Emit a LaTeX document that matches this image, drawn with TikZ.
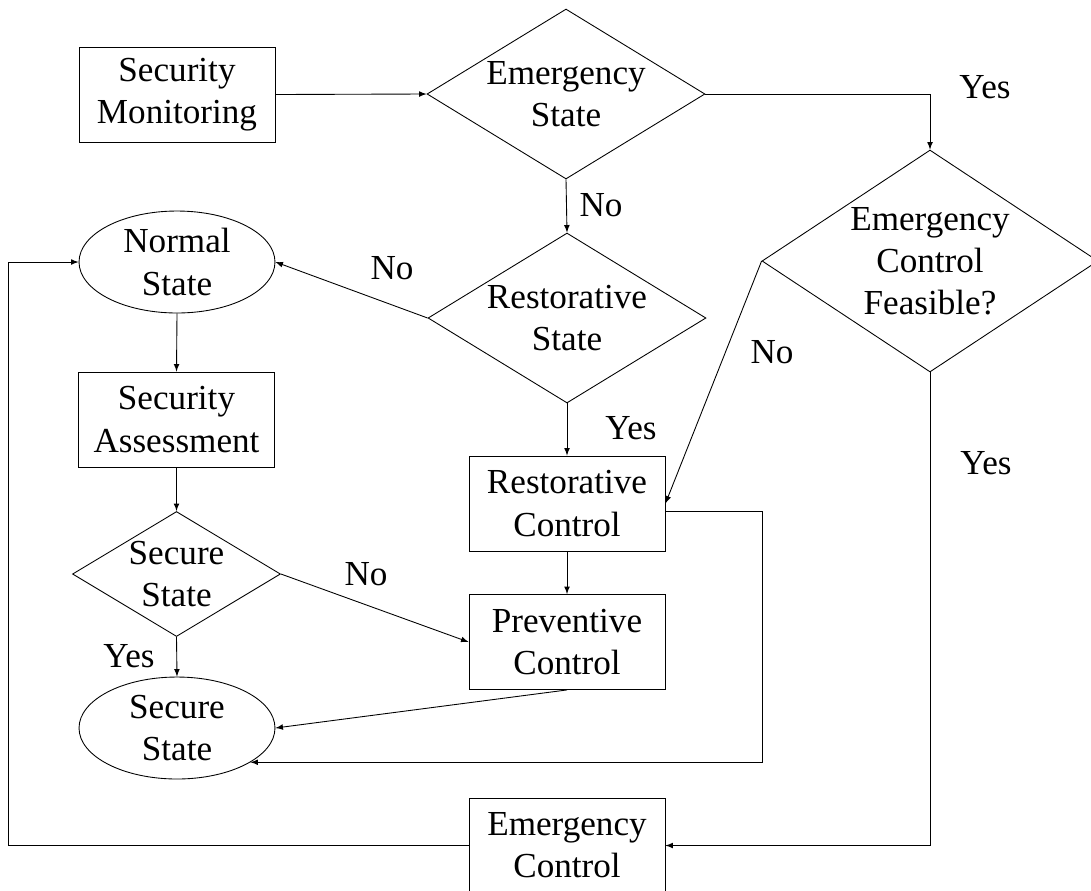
\documentclass[tikz,border=0pt]{standalone}
\usepackage{fontspec}
\setmainfont{Liberation Serif}
\usetikzlibrary{shapes.geometric}

\tikzset{
	box/.style={draw, rectangle, minimum width=3.92cm, minimum height=1.9cm,
		align=center, inner sep=0pt},
	oval/.style={draw, ellipse, minimum width=3.92cm, minimum height=2.04cm,
		align=center, inner sep=0pt},
	dmd/.style={draw, diamond, inner sep=0pt},
	arr/.style={-latex},
}

\begin{document}
\begin{tikzpicture}[x=0.02cm, y=-0.02cm, line width=0.5pt,
	font=\fontsize{20}{24}\selectfont]
		\useasboundingbox (0,0) rectangle (1091,890);
		% top row
		\node[box] (monitor) at (177,94.5) {Security\\Monitoring};
		\node[dmd, minimum width=5.56cm, minimum height=3.4cm,
		label={[align=center]center:Emergency\\State}] (emstate) at (566,94) {};
		\node[dmd, minimum width=6.72cm, minimum height=4.44cm,
		label={[align=center]center:Emergency\\Control\\Feasible?}] (feasible) at (930,261) {};
		% middle column
		\node[dmd, minimum width=5.56cm, minimum height=3.4cm,
		label={[align=center]center:Restorative\\State}] (reststate) at (567,318) {};
		\node[box] (restctrl) at (567,503.5) {Restorative\\Control};
		\node[box] (prevctrl) at (567,642) {Preventive\\Control};
		\node[box] (emctrl) at (567,845.5) {Emergency\\Control};
		% left column
		\node[oval] (normal) at (177,262) {Normal\\State};
		\node[box] (assess) at (176.5,419.5) {Security\\Assessment};
		\node[dmd, minimum width=4.16cm, minimum height=2.5cm,
		label={[align=center]center:Secure\\State}] (secq) at (176.5,574) {};
		\node[oval] (secure) at (177,728) {Secure\\State};

		% connectors
		\draw[arr] (monitor.east) -- (emstate.west);
		\draw[arr] (emstate.east) -| (feasible.north);
		\draw[arr] (emstate.south) -- (reststate.north);
		\draw[arr] (reststate.west) -- (normal.east);
		\draw[arr] (reststate.south) -- (restctrl.north);
		\draw[arr] (feasible.west) -- (restctrl.east);
		\draw[arr] (feasible.south) |- (emctrl.east);
		\draw[arr] (emctrl.west) -- ++(-460,0) |- (normal.west);
		\draw[arr] (normal.south) -- (assess.north);
		\draw[arr] (assess.south) -- (secq.north);
		\draw[arr] (secq.east) -- (prevctrl.west);
		\draw[arr] (secq.south) -- (secure.north);
		\draw[arr] (restctrl.south) -- (prevctrl.north);
		\draw[arr] (prevctrl.south) -- (secure.east);
		\draw[arr] ([yshift=-0.15cm]restctrl.east) -- ++(97,0) |- (secure.-25);

		% answers
		\node (yes1) at (985,87) {Yes};
		\node (no1) at (601,205) {No};
		\node (no2) at (392,268) {No};
		\node (yes2) at (631,428) {Yes};
		\node (no3) at (772,352) {No};
		\node (yes3) at (986,463) {Yes};
		\node (no4) at (366,574) {No};
		\node (yes4) at (129,656) {Yes};
\end{tikzpicture}
\end{document}
